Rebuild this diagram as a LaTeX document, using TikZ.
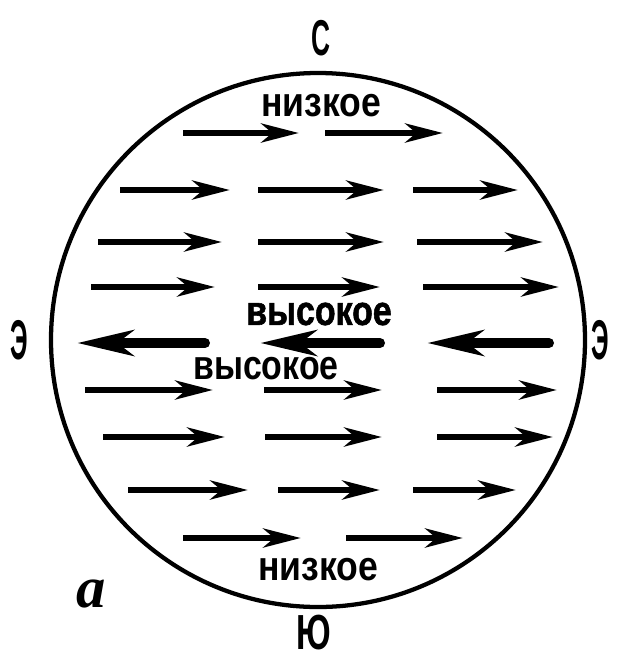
\documentclass[tikz,border=0pt]{standalone}
\usepackage{fontspec}
\usepackage{graphicx}
\usetikzlibrary{arrows.meta}
\newfontfamily\lblfont{Liberation Sans}
\newfontfamily\heavyfont[FakeBold=1.5]{Liberation Sans Bold}
\newfontfamily\capfont{Liberation Serif}

\tikzset{every picture/.style={line width=0.75pt}}
\tikzset{
  compass/.style={font=\lblfont\bfseries\fontsize{42}{42}\selectfont, inner sep=0pt},
  region/.style={font=\lblfont\bfseries\fontsize{31}{31}\selectfont, inner sep=0pt},
  highregion/.style={font=\heavyfont\fontsize{31}{31}\selectfont, inner sep=0pt},
  wind/.style={line width=5pt, -{Stealth[length=28pt,width=14pt,inset=8pt]}},
  backwind/.style={line width=7.5pt, line cap=round, -{Stealth[length=42pt,width=19pt,inset=12pt]}},
}

\begin{document}
\begin{tikzpicture}[x=0.75pt,y=0.75pt,yscale=-1,xscale=1]
    \useasboundingbox (0,0) rectangle (617,661);
    %Circle
    \draw[line width=3.2pt] (318,340) circle (267);
    %Compass labels
    \node[compass] (north) at (321,38) {\scalebox{0.47}[0.9]{С}};
    \node[compass] (south) at (314,633) {\scalebox{0.6}[0.88]{Ю}};
    \node[compass] (westside) at (19,340) {\scalebox{0.44}[1]{Э}};
    \node[compass] (eastside) at (600,340) {\scalebox{0.44}[1]{Э}};
    \node[inner sep=0pt, font=\capfont\bfseries\itshape\fontsize{44}{44}\selectfont] (tag) at (91,594) {а};
    %Pressure labels
    \node[region] (lowtop) at (321,106) {\scalebox{0.86}[1]{низкое}};
    \node[region] (lowbottom) at (318,570) {\scalebox{0.86}[1]{низкое}};
    \node[highregion] (hightop) at (319,314) {\scalebox{0.82}[1]{высокое}};
    \node[region] (highbottom) at (266,369) {\scalebox{0.82}[1]{высокое}};
    %Row 1
    \draw[wind] (183,133) -- (299,133) ;
    \draw[wind] (325,133) -- (443,133) ;
    %Row 2
    \draw[wind] (120,190) -- (230,190) ;
    \draw[wind] (258,190) -- (384,190) ;
    \draw[wind] (413,190) -- (518,190) ;
    %Row 3
    \draw[wind] (98,242) -- (222,242) ;
    \draw[wind] (258,242) -- (384,242) ;
    \draw[wind] (417,242) -- (543,242) ;
    %Row 4
    \draw[wind] (91,287) -- (215,287) ;
    \draw[wind] (258,287) -- (380,287) ;
    \draw[wind] (423,287) -- (559,287) ;
    %Row 5, against the flow
    \draw[backwind] (205,343) -- (77,343) ;
    \draw[backwind] (380,343) -- (260,343) ;
    \draw[backwind] (549,343) -- (427,343) ;
    %Row 6
    \draw[wind] (85,390) -- (213,390) ;
    \draw[wind] (264,390) -- (382,390) ;
    \draw[wind] (437,390) -- (557,390) ;
    %Row 7
    \draw[wind] (103,437) -- (225,437) ;
    \draw[wind] (265,437) -- (382,437) ;
    \draw[wind] (437,437) -- (553,437) ;
    %Row 8
    \draw[wind] (128,490) -- (248,490) ;
    \draw[wind] (278,490) -- (380,490) ;
    \draw[wind] (413,490) -- (516,490) ;
    %Row 9
    \draw[wind] (183,538) -- (301,538) ;
    \draw[wind] (346,538) -- (463,538) ;
\end{tikzpicture}
\end{document}
